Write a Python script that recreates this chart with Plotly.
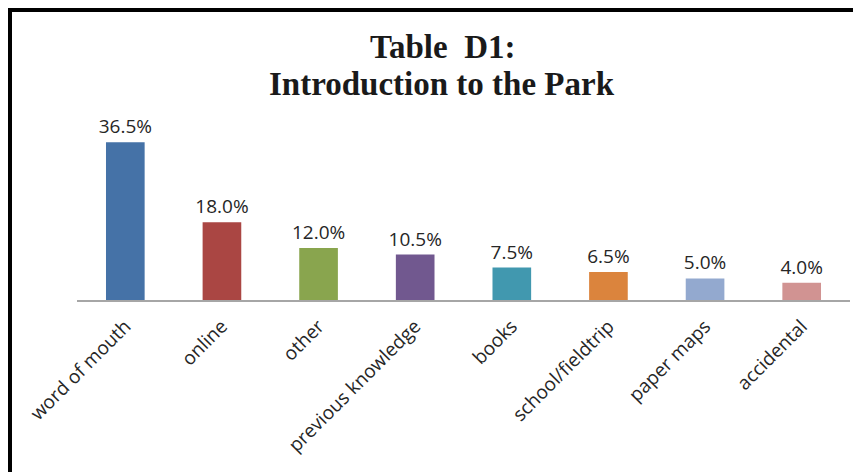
import plotly.graph_objects as go

categories = ["word of mouth", "online", "other", "previous knowledge", "books",
              "school/fieldtrip", "paper maps", "accidental"]
values = [36.5, 18.0, 12.0, 10.5, 7.5, 6.5, 5.0, 4.0]
labels = ["36.5%", "18.0%", "12.0%", "10.5%", "7.5%", "6.5%", "5.0%", "4.0%"]
colors = ["#4572A7", "#AA4643", "#89A54E", "#71588F", "#4198AF",
          "#DB843D", "#93A9CF", "#D19392"]
title_lines = ["Table  D1:", "Introduction to the Park"]

W, H = 861, 472
OFF = 8  # page body margin offset
L, R, T, B = 77 - OFF, 11 + OFF, 127 - OFF, 172 + OFF
pw = W - L - R
ph = H - T - B


def py(screen_y):
    return (H - B - (screen_y - OFF)) / ph


def px(screen_x):
    return ((screen_x - OFF) - L) / pw


fig = go.Figure(go.Bar(
    x=categories, y=values, text=labels, textposition="outside",
    constraintext="none",
    marker=dict(color=colors, line=dict(width=0)),
    textfont=dict(family="Open Sans", size=19, color="#262626"),
    cliponaxis=False,
))

title_font = dict(family="Liberation Serif", size=33, color="#1a1a1a", weight="bold")

fig.update_layout(
    width=W, height=H,
    margin=dict(l=L, r=R, t=T, b=B, autoexpand=False),
    paper_bgcolor="white", plot_bgcolor="white",
    bargap=0.6,
    showlegend=False,
    xaxis=dict(
        tickangle=-45, showline=True, linecolor="#A6A6A6", linewidth=1.5,
        ticks="", showgrid=False, automargin=False, ticklabelstandoff=6,
        tickfont=dict(family="Open Sans", size=19, color="#262626"),
    ),
    yaxis=dict(range=[0, 40], visible=False, showgrid=False, automargin=False),
    annotations=[
        dict(text=title_lines[0], x=px(442), y=py(47), xref="paper", yref="paper",
             showarrow=False, xanchor="center", yanchor="middle", font=title_font),
        dict(text=title_lines[1], x=px(442), y=py(84), xref="paper", yref="paper",
             showarrow=False, xanchor="center", yanchor="middle", font=title_font),
    ],
    shapes=[dict(
        type="rect", xref="paper", yref="paper",
        x0=px(10), x1=px(W + 60),
        y0=py(H + 60), y1=py(10),
        line=dict(color="black", width=4), fillcolor="rgba(0,0,0,0)",
        layer="above",
    )],
)

fig.write_html("out.html")
